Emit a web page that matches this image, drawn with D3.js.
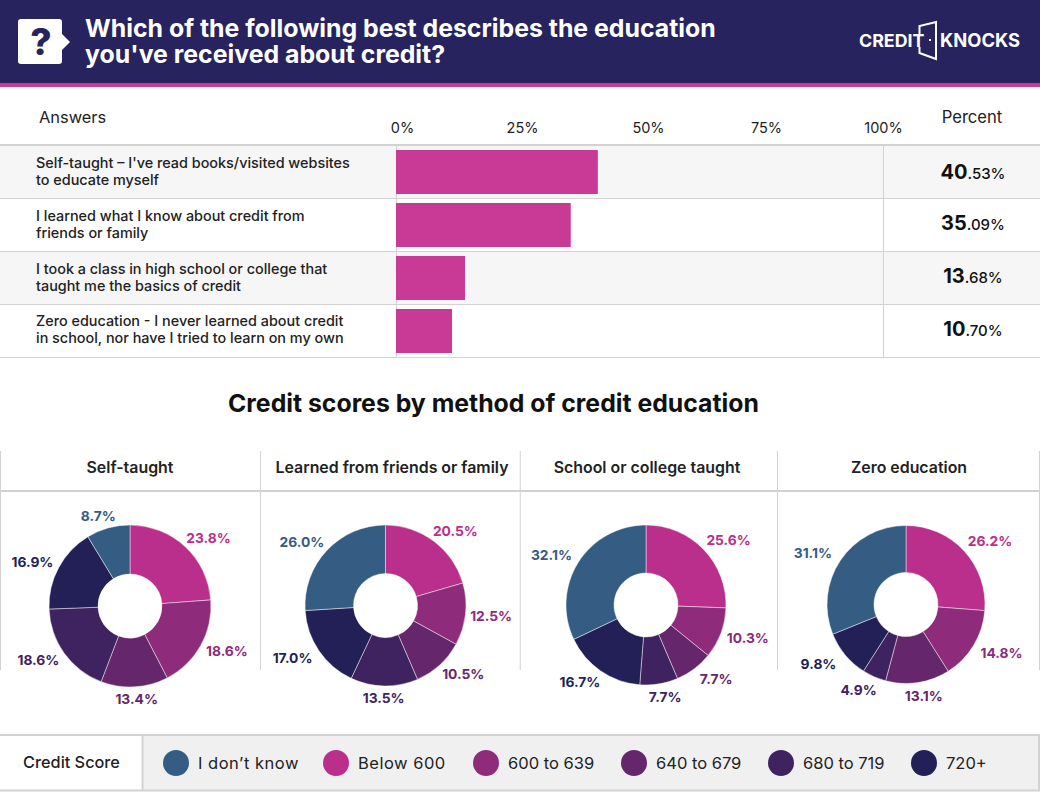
<!DOCTYPE html>
<html><head><meta charset="utf-8"><script src="https://cdn.jsdelivr.net/npm/d3@7"></script>
<style>html,body{margin:0;padding:0;background:#fff}svg{display:block}text{font-family:Inter,"Open Sans",sans-serif}</style></head>
<body><svg id="c" width="1040" height="792"></svg>
<script>
const titleLines = ["Which of the following best describes the education","you've received about credit?"];
const answers = [
 ["Self-taught – I've read books/visited websites","to educate myself"],
 ["I learned what I know about credit from","friends or family"],
 ["I took a class in high school or college that","taught me the basics of credit"],
 ["Zero education - I never learned about credit","in school, nor have I tried to learn on my own"]];
const percents = [40.53,35.09,13.68,10.70];
// bar lengths as measured in the picture; the last two run slightly longer than their printed labels
const barLengths = [40.53,35.09,13.85,11.25];
const tickValues = [0,25,50,75,100];
const pieTitles = ["Self-taught","Learned from friends or family","School or college taught","Zero education"];
const legendLabels = ["I don’t know","Below 600","600 to 639","640 to 679","680 to 719","720+"];
const legendColors = ["#355c83","#b92f8b","#8e2b7b","#66266c","#3f2360","#231f57"];
// order in each: Below 600, 600-639, 640-679, 680-719, 720+, I don't know
const selfTaught = [23.8,18.6,13.4,18.6,16.9,8.7];
const friends = [20.5,12.5,10.5,13.5,17.0,26.0];
const school = [25.6,10.3,7.7,7.7,16.7,32.1];
const zeroEd = [26.2,14.8,13.1,4.9,9.8,31.1];
const pieData = [selfTaught,friends,school,zeroEd];
const sliceColors = legendColors.slice(1).concat(legendColors[0]);

const svg = d3.select("#c");
const ink="#222", line="#d2d2d2";
// header
svg.append("rect").attr("width",1040).attr("height",83).attr("fill","#27235e");
svg.append("rect").attr("y",83).attr("width",1040).attr("height",4).attr("fill","#c83a96");
svg.append("path").attr("fill","#fff").attr("d","M21 19H59a3 3 0 0 1 3 3V34L70 42L62 50V61a3 3 0 0 1-3 3H21a3 3 0 0 1-3-3V22a3 3 0 0 1 3-3Z");
svg.append("text").attr("x",41).attr("y",55).attr("text-anchor","middle").attr("font-size",37).attr("font-weight",800).attr("fill","#27235e").text("?");
svg.selectAll(".ti").data(titleLines).join("text").attr("x",85).attr("y",(d,i)=>37+i*26).attr("font-size",24.85).attr("font-weight",700).attr("fill","#fff").text(d=>d);
svg.append("text").attr("x",859).attr("y",47).attr("font-size",17.8).attr("font-weight",700).attr("fill","#fff").text("CREDIT");
svg.append("text").attr("x",940).attr("y",47).attr("font-size",18.4).attr("font-weight",700).attr("fill","#fff").text("KNOCKS");
svg.append("path").attr("fill","none").attr("stroke","#fff").attr("stroke-width",2).attr("d","M919.5 35V26L936 22V59L919.5 53V47");
svg.append("rect").attr("x",929).attr("y",39).attr("width",2).attr("height",2).attr("fill","#fff");

// table
const rowY = d3.scaleBand().domain(d3.range(4)).range([146,358]);
svg.selectAll(".row").data(answers).join("rect").attr("x",0).attr("width",1040).attr("y",(d,i)=>rowY(i)).attr("height",rowY.bandwidth())
  .attr("fill",(d,i)=>i%2?"#fff":"#f6f6f6");
const hline=(y,w,x1=0,x2=1040)=>svg.append("line").attr("x1",x1).attr("x2",x2).attr("y1",y).attr("y2",y).attr("stroke",line).attr("stroke-width",w);
const vline=(x,y1,y2,w=1)=>svg.append("line").attr("x1",x).attr("x2",x).attr("y1",y1).attr("y2",y2).attr("stroke",line).attr("stroke-width",w);
hline(145,2);
d3.range(1,5).forEach(i=>hline(rowY(0)+i*rowY.step()-.5,1));
vline(396.5,146,358); vline(883.5,146,358);
const xBar = d3.scaleLinear().domain([0,100]).range([396,894]);
svg.selectAll(".bar").data(barLengths).join("rect").attr("x",xBar(0)).attr("y",(d,i)=>rowY(i)+4).attr("height",44)
  .attr("width",d=>xBar(d)-xBar(0)).attr("fill","#c83a96");
const xTick = d3.scaleLinear().domain(tickValues).range([402,522,648,766,883]);
const axis = svg.append("g").attr("transform","translate(0,133)").call(d3.axisTop(xTick).tickValues(tickValues).tickFormat(d=>d+"%").tickSize(0).tickPadding(0));
axis.select(".domain").remove();
axis.selectAll("text").attr("font-size",14.5).attr("fill",ink).style("font-family","Inter").attr("font-weight",400).attr("dy",0);
svg.append("text").attr("x",39).attr("y",123).attr("font-size",16.4).attr("fill",ink).text("Answers");
svg.append("text").attr("x",972).attr("y",123).attr("text-anchor","middle").attr("font-size",16.6).attr("fill",ink).text("Percent");
answers.forEach((a,i)=>a.forEach((t,j)=>svg.append("text").attr("x",36).attr("y",rowY(i)+22-(i==3?1:0)+j*17.2).attr("font-size",14.4).attr("font-weight",500).attr("fill",ink).text(t)));
percents.forEach((p,i)=>{
  const [a,b]=p.toFixed(2).split(".");
  const t=svg.append("text").attr("x",973).attr("y",rowY(i)+(i?31:33)).attr("text-anchor","middle").attr("fill","#111");
  t.append("tspan").attr("font-size",20).attr("font-weight",700).text(a);
  t.append("tspan").attr("font-size",15).attr("font-weight",500).text("."+b+"%");
});

svg.append("text").attr("x",493.5).attr("y",412).attr("text-anchor","middle").attr("font-size",24.8).attr("font-weight",700).attr("fill","#111").text("Credit scores by method of credit education");

// pies
const colX = d3.scaleLinear().domain([0,4]).range([0.5,1040]);
d3.range(0,5).forEach(i=>vline(i==3?777.5:i==4?1039.5:colX(i),451,670));
hline(491,2);
pieTitles.forEach((t,i)=>svg.append("text").attr("x",[130,392,647,909][i]).attr("y",473).attr("text-anchor","middle").attr("font-size",15.9).attr("font-weight",600).attr("fill",ink).text(t));
const pie=d3.pie().sort(null).value(d=>d);
const radii=[81,80.5,80,79];
const centers=[[130,606],[385.5,605.5],[646,605],[906,604.5]];
pieData.forEach((vals,k)=>{
  const arc=d3.arc().innerRadius(32).outerRadius(radii[k]);
  const g=svg.append("g").attr("transform",`translate(${centers[k]})`);
  const ps=pie(vals);
  g.selectAll("path").data(ps).join("path").attr("d",arc).attr("fill",(d,i)=>sliceColors[i]).attr("stroke","#fff").attr("stroke-opacity",.45).attr("stroke-width",1);
  g.selectAll("text").data(ps).join("text")
   .attr("x",d=>{const s=Math.sin((d.startAngle+d.endAngle)/2);return s*(118-12*s*s*s*s);})
   .attr("y",d=>-Math.cos((d.startAngle+d.endAngle)/2)*93+5)
   .attr("text-anchor","middle").attr("font-size",13.8).attr("font-weight",700)
   .attr("fill",(d,i)=>sliceColors[i]).text(d=>d.value.toFixed(1)+"%");
});

// legend
svg.append("rect").attr("x",142).attr("y",735).attr("width",897).attr("height",55).attr("fill","#f0f0f0");
hline(735,2); hline(790.5,2); vline(142.5,735,790,2); vline(1039,735,790,2);
svg.append("text").attr("x",71.5).attr("y",768).attr("text-anchor","middle").attr("font-size",16.3).attr("font-weight",500).attr("fill",ink).text("Credit Score");
const legX=d3.scaleOrdinal().domain(legendLabels).range([176,336,486,634,781,924]);
const lg=svg.selectAll(".lg").data(legendLabels).join("g").attr("transform",d=>`translate(${legX(d)},763)`);
lg.append("circle").attr("r",13).attr("fill",(d,i)=>legendColors[i]);
lg.append("text").attr("x",22).attr("y",6).attr("font-size",16.5).attr("letter-spacing",(d,i)=>i<2?.5:0).attr("fill",ink).text(d=>d);
</script></body></html>
